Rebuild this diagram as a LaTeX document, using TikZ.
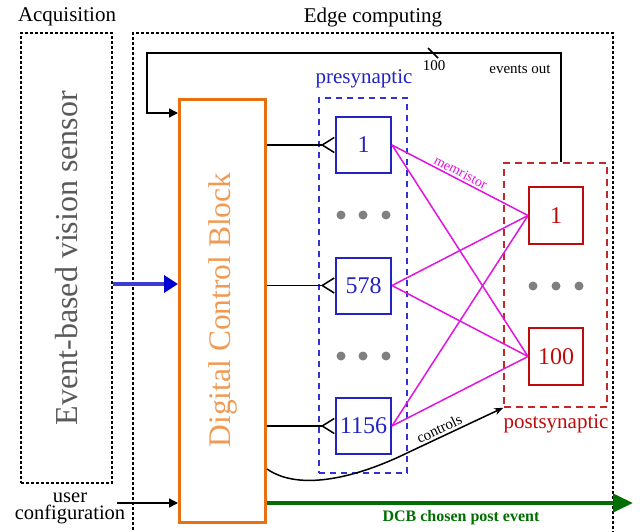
\documentclass[tikz,border=0pt]{standalone}
\usepackage{fontspec}
\setmainfont{Liberation Serif}
\usetikzlibrary{arrows.meta,calc}
\definecolor{preblue}{RGB}{35,35,195}
\definecolor{preboxblue}{RGB}{50,50,210}
\definecolor{postred}{RGB}{190,10,10}
\definecolor{postboxred}{RGB}{195,40,40}
\definecolor{memmag}{RGB}{225,20,225}
\definecolor{dkgreen}{RGB}{0,110,0}
\definecolor{dcborange}{RGB}{232,112,16}
\definecolor{dcbtext}{RGB}{240,155,85}
\definecolor{sensgray}{RGB}{90,90,90}
\definecolor{arrblue}{RGB}{60,60,210}
\definecolor{headblue}{RGB}{0,0,210}
\begin{document}
\begin{tikzpicture}[x=1pt,y=-1pt,
  lbl/.style={font=\fontsize{21}{24}\selectfont, inner sep=0pt},
  small/.style={font=\fontsize{15}{17}\selectfont, inner sep=0pt},
  acqbox/.style={draw, dashed, dash pattern=on 3pt off 2pt, line width=1.3pt, minimum width=91pt, minimum height=450pt, inner sep=0pt},
  dcbbox/.style={draw=dcborange, line width=3pt, minimum width=86pt, minimum height=423pt, inner sep=0pt},
  prebox/.style={draw=preblue, line width=2pt, minimum width=55pt, minimum height=56pt, inner sep=0pt, text=preblue, font=\fontsize{24}{26}\selectfont},
  postbox/.style={draw=postred, line width=2pt, minimum width=54pt, minimum height=57pt, inner sep=0pt, text=postred, font=\fontsize{24}{26}\selectfont},
  presyn/.style={draw=preboxblue, dash pattern=on 6pt off 5pt, line width=1.5pt, minimum width=88pt, minimum height=375pt, inner sep=0pt},
  postsyn/.style={draw=postboxred, dash pattern=on 7pt off 5pt, line width=1.5pt, minimum width=103pt, minimum height=244pt, inner sep=0pt},
  dot/.style={circle, fill=gray, minimum size=9pt, inner sep=0pt},
  fork/.style={line width=1.5pt, -{Straight Barb[reversed, length=12pt, width=15pt, line width=1.5pt]}},
  mem/.style={draw=memmag, line width=1.5pt},
  blk/.style={line width=1.5pt, -{Triangle[length=9pt, width=9pt]}}
]
\useasboundingbox (0,0) rectangle (642,532);

% titles
\node[lbl] (tacq) at (67,17) {Acquisition};
\node[lbl] (tedge) at (373,17) {Edge computing};

% containers
\node[acqbox] (acq) at (66.5,258) {};
\coordinate (eBL) at (133,540);
\coordinate (eTL) at (133,33);
\coordinate (eTR) at (613,33);
\coordinate (eBR) at (613,540);
\draw[dashed, dash pattern=on 3pt off 2pt, line width=1.3pt] (eBL) -- (eTL) -- (eTR) -- (eBR);

\node[rotate=90, text=sensgray, font=\fontsize{32}{34}\selectfont, inner sep=0pt] (evs) at (67,258) {Event-based vision sensor};

% DCB
\node[dcbbox] (dcb) at (222.5,311) {};
\node[rotate=90, text=dcbtext, font=\fontsize{31.5}{34}\selectfont, inner sep=0pt] (dcbt) at (223,310) {Digital Control Block};

% presynaptic
\node[presyn] (pre) at (363,285.5) {};
\node[lbl, text=preblue] (tpre) at (364,79) {presynaptic};
\node[prebox] (p1) at (363.5,145) {1};
\node[prebox] (p578) at (363.5,285.5) {578};
\node[prebox] (p1156) at (363.5,426) {1156};
\node[dot] (da1) at (341,215) {};
\node[dot] (da2) at (363,215) {};
\node[dot] (da3) at (386,215) {};
\node[dot] (db1) at (341,356) {};
\node[dot] (db2) at (363,356) {};
\node[dot] (db3) at (386,356) {};

% postsynaptic
\node[postsyn] (post) at (555.5,285) {};
\node[lbl, text=postred] (tpost) at (556,424) {postsynaptic};
\node[postbox] (q1) at (556,215.5) {1};
\node[postbox] (q100) at (556,356.5) {100};
\node[dot] (dc1) at (533,286) {};
\node[dot] (dc2) at (556,286) {};
\node[dot] (dc3) at (579,286) {};

% DCB to pre
\draw[fork] (dcb.east |- p1) -- (p1.west);
\draw[fork] (dcb.east |- p578) -- (p578.west);
\draw[fork] (dcb.east |- p1156) -- (p1156.west);

% memristors
\draw[mem] (p1.east) -- node[pos=0.48, above=1pt, sloped, text=memmag, font=\fontsize{14}{16}\selectfont, inner sep=1pt] (tmem) {memristor} (q1.west);
\foreach \a/\b in {p1/q100, p578/q1, p578/q100, p1156/q1, p1156/q100}
  \draw[mem] (\a.east) -- (\b.west);

% feedback loop
\coordinate (eo) at ([xshift=5.5pt]post.north);
\coordinate (lt) at (147,53);
\coordinate (din) at ($(dcb.north west)+(0,15)$);
\draw[blk] (eo) |- (lt) |- (din);
\coordinate (sl1) at (428,48);
\coordinate (sl2) at (438,58);
\draw[line width=1.5pt] (sl1) -- (sl2);
\node[small] (t100) at (434,66) {100};
\node[small] (tev) at (520,69) {events out};

% sensor to DCB
\coordinate (sin) at (acq.east |- 0,284);
\draw[line width=4pt, arrblue, -{Triangle[length=14pt, width=17pt, fill=headblue, color=headblue]}] (sin) -- (dcb.west |- sin);

% user configuration
\node[lbl, align=center, font=\fontsize{20.5}{17}\selectfont] (uc) at (70,508) {user\\configuration};
\coordinate (ucs) at (117,503);
\draw[blk] (ucs) -- (dcb.west |- ucs);

% green output
\coordinate (gs) at (dcb.east |- 0,503);
\coordinate (ge) at (633,503);
\draw[line width=4pt, dkgreen, -{Triangle[length=20pt, width=18pt]}] (gs) -- node[pos=0.53, below=5pt, font=\bfseries\fontsize{16}{18}\selectfont, text=dkgreen, inner sep=0pt] (tgreen) {DCB chosen post event} (ge);

% controls
\coordinate (cs) at (dcb.east |- 0,469);
\coordinate (cm) at (407,453);
\draw[line width=1.5pt, -{Stealth[length=9pt, width=7pt]}] (cs) .. controls (300,492) and (358,477) .. (cm) -- node[pos=0.37, above=2pt, sloped, small, inner sep=0pt] (tctl) {controls} (post.south west);
\end{tikzpicture}
\end{document}
